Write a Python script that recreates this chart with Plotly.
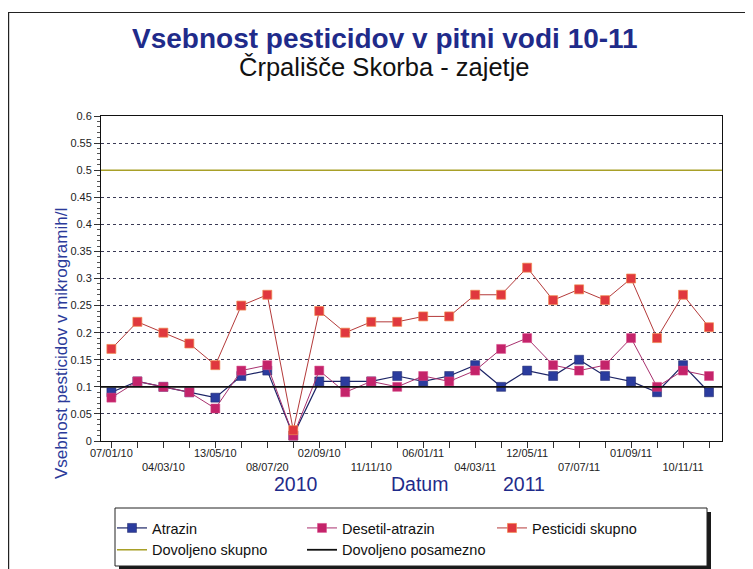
import plotly.graph_objects as go

# ---------------- data ----------------
sample_index = list(range(24))
tick_positions = [0, 2, 4, 6, 8, 10, 12, 14, 16, 18, 20, 22]
tick_labels = ["07/01/10", "04/03/10", "13/05/10", "08/07/20", "02/09/10", "11/11/10",
               "06/01/11", "04/03/11", "12/05/11", "07/07/11", "01/09/11", "10/11/11"]

atrazin = [0.09, 0.11, 0.10, 0.09, 0.08, 0.12, 0.13, 0.01, 0.11, 0.11, 0.11, 0.12,
           0.11, 0.12, 0.14, 0.10, 0.13, 0.12, 0.15, 0.12, 0.11, 0.09, 0.14, 0.09]
desetil_atrazin = [0.08, 0.11, 0.10, 0.09, 0.06, 0.13, 0.14, 0.01, 0.13, 0.09, 0.11, 0.10,
                   0.12, 0.11, 0.13, 0.17, 0.19, 0.14, 0.13, 0.14, 0.19, 0.10, 0.13, 0.12]
pesticidi_skupno = [0.17, 0.22, 0.20, 0.18, 0.14, 0.25, 0.27, 0.02, 0.24, 0.20, 0.22, 0.22,
                    0.23, 0.23, 0.27, 0.27, 0.32, 0.26, 0.28, 0.26, 0.30, 0.19, 0.27, 0.21]
limit_total = 0.5
limit_single = 0.1

X_RANGE = [-0.4, 23.5]
Y_RANGE = [0, 0.6]

# ---------------- layout helpers (reference pixel -> paper) ----------------
W_FIG, H_FIG = 753, 569
OFF = 8  # page body margin offset
L, R, T, B = 101, 722, 116, 441   # plot area in reference pixels
PW, PH = R - L, B - T


def px(x):
    return (x - L) / PW


def py(y):
    return (B - y) / PH


FONT = "Liberation Sans, Arial, sans-serif"
NAVY = "#1f2b8a"

# alternate tick labels on two rows
ticktext = [t if i % 2 == 0 else "<br>" + t for i, t in enumerate(tick_labels)]

fig = go.Figure()

fig.add_trace(go.Scatter(
    x=sample_index, y=atrazin, name="Atrazin", mode="lines+markers",
    line=dict(color="#1c2466", width=1.2),
    marker=dict(symbol="square", size=9, color="#2b3c9e", line=dict(color="#1c2466", width=0.5))))
fig.add_trace(go.Scatter(
    x=sample_index, y=desetil_atrazin, name="Desetil-atrazin", mode="lines+markers",
    line=dict(color="#a8306e", width=1),
    marker=dict(symbol="square", size=9, color="#c4236a", line=dict(color="#d84a88", width=0.5))))
fig.add_trace(go.Scatter(
    x=sample_index, y=pesticidi_skupno, name="Pesticidi skupno", mode="lines+markers",
    line=dict(color="#b43a3a", width=1),
    marker=dict(symbol="square", size=9, color="#e0383e", line=dict(color="#f08a50", width=0.7))))
fig.add_trace(go.Scatter(
    x=X_RANGE, y=[limit_total, limit_total], name="Dovoljeno skupno", mode="lines",
    line=dict(color="#a8a028", width=1.5)))
fig.add_trace(go.Scatter(
    x=X_RANGE, y=[limit_single, limit_single], name="Dovoljeno posamezno", mode="lines",
    line=dict(color="#111111", width=1.8)))

shapes = [
    # outer frame
    dict(type="rect", xref="paper", yref="paper", x0=px(8.6), x1=px(780), y0=py(600), y1=py(12.5),
         line=dict(color="#222", width=1.2), fillcolor="rgba(0,0,0,0)", layer="below"),
    # legend shadow
    dict(type="rect", xref="paper", yref="paper", x0=px(119), x1=px(711), y0=py(570), y1=py(512),
         line=dict(width=0), fillcolor="#1a1a1a", layer="above"),
    # legend box
    dict(type="rect", xref="paper", yref="paper", x0=px(115), x1=px(707), y0=py(566), y1=py(508),
         line=dict(color="#222", width=1), fillcolor="white", layer="above"),
]

annotations = [
    dict(text="<b>Vsebnost pesticidov v pitni vodi 10-11</b>", x=px(385), y=py(38),
         xref="paper", yref="paper", showarrow=False, xanchor="center", yanchor="middle",
         font=dict(family=FONT, size=28, color=NAVY)),
    dict(text="Črpališče Skorba - zajetje", x=px(384), y=py(67),
         xref="paper", yref="paper", showarrow=False, xanchor="center", yanchor="middle",
         font=dict(family=FONT, size=25.5, color="#111111")),
    dict(text="Vsebnost pesticidov v mikrogramih/l", x=px(61), y=py(344), textangle=-90,
         xref="paper", yref="paper", showarrow=False, xanchor="center", yanchor="middle",
         font=dict(family=FONT, size=17, color="#2b3a9a")),
    dict(text="2010", x=px(296), y=py(484), xref="paper", yref="paper", showarrow=False,
         xanchor="center", yanchor="middle", font=dict(family=FONT, size=19.5, color=NAVY)),
    dict(text="Datum", x=px(419), y=py(484), xref="paper", yref="paper", showarrow=False,
         xanchor="center", yanchor="middle", font=dict(family=FONT, size=19.5, color=NAVY)),
    dict(text="2011", x=px(524), y=py(484), xref="paper", yref="paper", showarrow=False,
         xanchor="center", yanchor="middle", font=dict(family=FONT, size=19.5, color=NAVY)),
]

fig.update_layout(
    width=W_FIG, height=H_FIG,
    margin=dict(l=L - OFF, r=W_FIG - R + OFF, t=T - OFF, b=H_FIG - B + OFF,
                pad=0, autoexpand=False),
    paper_bgcolor="white", plot_bgcolor="white",
    font=dict(family=FONT, size=11, color="#222"),
    showlegend=True,
    legend=dict(orientation="h", x=px(112), y=py(512), xanchor="left", yanchor="top",
                entrywidth=145, entrywidthmode="pixels",
                bgcolor="rgba(0,0,0,0)", borderwidth=0,
                font=dict(family=FONT, size=14.5, color="#111"), traceorder="normal"),
    shapes=shapes,
    annotations=annotations,
    xaxis=dict(range=X_RANGE, tickmode="array", tickvals=sample_index,
               ticktext=[""] * len(sample_index), showgrid=False, zeroline=False,
               showline=True, linecolor="#111", linewidth=1, mirror=True,
               ticks="outside", ticklen=6, tickcolor="#333"),
    xaxis2=dict(overlaying="x", matches="x", range=X_RANGE, tickmode="array",
                tickvals=tick_positions, ticktext=ticktext, side="bottom",
                showgrid=False, zeroline=False, showline=False, ticks="",
                tickfont=dict(family=FONT, size=11, color="#222"), ticklabelstandoff=4),
    yaxis=dict(range=Y_RANGE, dtick=0.05, tick0=0, showgrid=True, gridcolor="#3a3a55",
               griddash="dot", gridwidth=1, zeroline=False, showline=True, linecolor="#111",
               linewidth=1, mirror=True, ticks="outside", ticklen=6, tickcolor="#333",
               tickfont=dict(family=FONT, size=11, color="#222"),
               minor=dict(dtick=0.01, ticks="outside", ticklen=3, tickcolor="#555")),
)

# hidden helper trace binding the label axis
fig.add_trace(go.Scatter(x=[X_RANGE[0]], y=[None], xaxis="x2", showlegend=False,
                         hoverinfo="skip", mode="markers"))

fig.write_html("out.html")
